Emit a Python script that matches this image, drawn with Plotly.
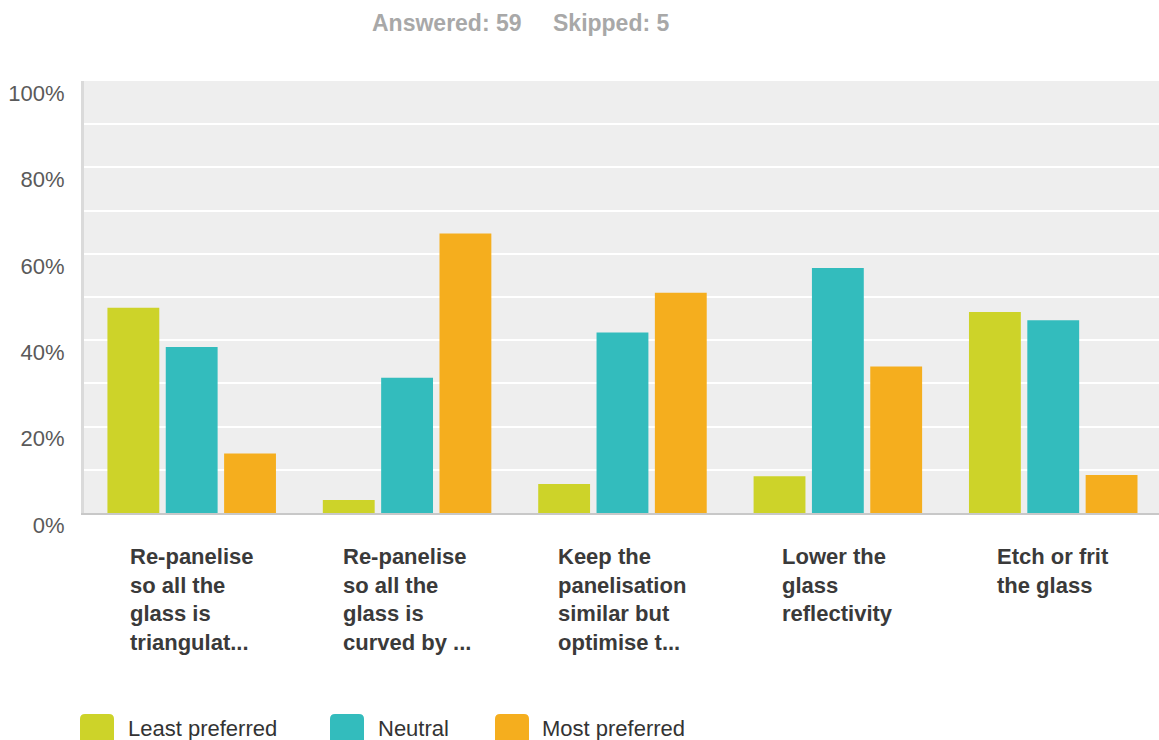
import plotly.graph_objects as go

categories = [
    "Re-panelise<br>so all the<br>glass is<br>triangulat...",
    "Re-panelise<br>so all the<br>glass is<br>curved by ...",
    "Keep the<br>panelisation<br>similar but<br>optimise t...",
    "Lower the<br>glass<br>reflectivity",
    "Etch or frit<br>the glass",
]
series_names = ["Least preferred", "Neutral", "Most preferred"]
least_preferred = [47.5, 3.0, 6.7, 8.5, 46.5]
neutral = [38.4, 31.3, 41.8, 56.7, 44.6]
most_preferred = [13.8, 64.7, 51.0, 33.9, 8.8]
colors = ["#cdd329", "#33bcbd", "#f5ae1e"]
y_ticks = [0, 20, 40, 60, 80, 100]
y_ticktext = ["0%", "20%", "40%", "60%", "80%", "100%"]
answered_text = "Answered: 59"
skipped_text = "Skipped: 5"

W, H = 1159, 740
L, R, T, B = 84, 0, 81, 227
PW = W - L - R
PH = H - T - B
FONT = "Liberation Sans, Arial, Helvetica, sans-serif"


def px_x(px):
    return (px - L) / PW


def px_y(py):
    return (H - B - py) / PH


fig = go.Figure()
xs = list(range(len(categories)))
for name, vals, col in zip(series_names, [least_preferred, neutral, most_preferred], colors):
    fig.add_trace(go.Bar(x=xs, y=vals, name=name, marker=dict(color=col, line=dict(width=0)),
                         showlegend=False, hoverinfo="y"))

annotations = []
for i, cat in enumerate(categories):
    annotations.append(dict(x=i, xref="x", y=px_y(542), yref="paper", text=cat, showarrow=False,
                            xanchor="center", yanchor="top", align="left",
                            font=dict(family=FONT, size=22, color="#3a3a3a", weight="bold")))

annotations.append(dict(x=px_x(370), xref="paper", y=px_y(23), yref="paper", text=answered_text,
                        showarrow=False, xanchor="left", yanchor="middle",
                        font=dict(family=FONT, size=23, color="#a8a8a8", weight="bold")))
annotations.append(dict(x=px_x(551), xref="paper", y=px_y(23), yref="paper", text=skipped_text,
                        showarrow=False, xanchor="left", yanchor="middle",
                        font=dict(family=FONT, size=23, color="#a8a8a8", weight="bold")))

shapes = []
legend_swatch_left = [80, 330, 495]
legend_text_left = [126, 376, 540]
for name, col, sx, tx in zip(series_names, colors, legend_swatch_left, legend_text_left):
    x0, x1 = px_x(sx), px_x(sx + 34)
    y1, y0 = px_y(714), px_y(748)
    rx, ry = 5 / PW, 5 / PH
    path = (f"M {x0+rx},{y1} L {x1-rx},{y1} Q {x1},{y1} {x1},{y1-ry} "
            f"L {x1},{y0+ry} Q {x1},{y0} {x1-rx},{y0} L {x0+rx},{y0} "
            f"Q {x0},{y0} {x0},{y0+ry} L {x0},{y1-ry} Q {x0},{y1} {x0+rx},{y1} Z")
    shapes.append(dict(type="path", xref="paper", yref="paper", path=path,
                       fillcolor=col, line=dict(width=0), layer="above"))
    annotations.append(dict(x=px_x(tx), xref="paper", y=px_y(728), yref="paper", text=name,
                            showarrow=False, xanchor="left", yanchor="middle",
                            font=dict(family=FONT, size=22, color="#333333")))

fig.update_layout(
    width=W, height=H,
    margin=dict(l=L, r=R, t=T, b=B, pad=0),
    paper_bgcolor="white",
    plot_bgcolor="#eeeeee",
    barmode="group",
    bargap=0.1875,
    bargroupgap=0.111,
    showlegend=False,
    annotations=annotations,
    shapes=shapes,
    xaxis=dict(range=[-0.5, 4.491], showticklabels=False, showgrid=False, zeroline=False,
               showline=True, linecolor="#c8c8c8", linewidth=2, fixedrange=True),
    yaxis=dict(range=[0, 100], tickvals=y_ticks, ticktext=y_ticktext, showgrid=True,
               gridcolor="white", gridwidth=2, zeroline=False, showline=True,
               linecolor="#dadada", linewidth=3, ticks="", ticklabelstandoff=12,
               ticklabelshift=12,
               tickfont=dict(family=FONT, size=22, color="#5a5a5a"),
               minor=dict(dtick=10, tick0=0, showgrid=True, gridcolor="white", gridwidth=2),
               fixedrange=True),
    font=dict(family=FONT),
)

fig.write_html("out.html", config={"displayModeBar": False})
